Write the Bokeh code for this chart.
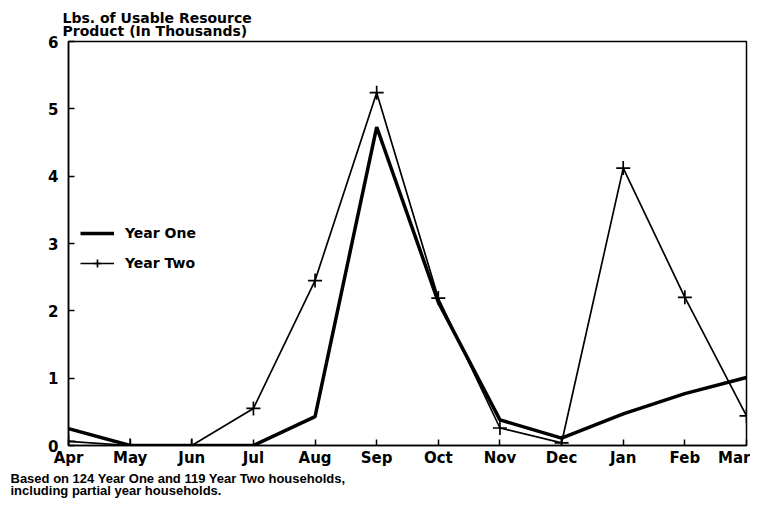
from bokeh.plotting import figure
from bokeh.models import Range1d, FixedTicker, Title, Legend, LegendItem
from bokeh.embed import file_html
from bokeh.resources import INLINE

months = ["Apr", "May", "Jun", "Jul", "Aug", "Sep", "Oct", "Nov", "Dec", "Jan", "Feb", "Mar"]
year_one = [0.25, 0.0, 0.0, 0.0, 0.43, 4.73, 2.13, 0.38, 0.11, 0.47, 0.77, 1.01]
year_two = [0.06, 0.0, 0.0, 0.55, 2.45, 5.24, 2.19, 0.26, 0.04, 4.12, 2.2, 0.44]
y_ticks = [0, 1, 2, 3, 4, 5, 6]
y_label = "Lbs. of Usable Resource\nProduct (In Thousands)"
footnote = "Based on 124 Year One and 119 Year Two households,\nincluding partial year households."

FONT = "DejaVu Sans"
FONT2 = "Liberation Sans"
xs = list(range(len(months)))

p = figure(width=750, height=498, output_backend="svg", toolbar_location=None,
           x_range=Range1d(0, len(months) - 1), y_range=Range1d(0, 6),
           min_border_left=68, min_border_right=4, min_border_top=41, min_border_bottom=53)
p.grid.visible = False
p.background_fill_color = "white"
p.border_fill_color = "white"
p.outline_line_color = "black"
p.outline_line_width = 1.5

# axes
p.xaxis.ticker = FixedTicker(ticks=xs)
p.xaxis.major_label_overrides = {i: m for i, m in enumerate(months)}
p.yaxis.ticker = FixedTicker(ticks=y_ticks)
for ax in (p.xaxis, p.yaxis):
    ax.major_tick_in = 6
    ax.major_tick_out = 0
    ax.minor_tick_line_color = None
    ax.axis_line_width = 1.5
    ax.major_tick_line_width = 1.5
    ax.major_label_text_font = FONT
    ax.major_label_text_font_style = "bold"
    ax.major_label_text_font_size = "15px"
    ax.major_label_text_color = "black"
p.xaxis.major_label_standoff = 3
p.yaxis.major_label_standoff = 10

# y-axis label as a title above the frame
t = Title(text=y_label, align="left", offset=-6, text_font=FONT, text_font_style="bold",
          text_font_size="14px", text_line_height=0.85, standoff=4, text_color="black")
p.add_layout(t, "above")

# footnote below the axis
foot = Title(text=footnote, align="left", offset=-58, text_font=FONT2, text_font_style="bold",
             text_font_size="13px", text_line_height=0.82, standoff=0, text_color="black")
p.add_layout(foot, "below")

r1 = p.line(xs, year_one, line_color="black", line_width=3.5)
r2 = p.line(xs, year_two, line_color="black", line_width=1.7)
m2 = p.scatter(xs, year_two, marker="cross", size=14, line_color="black", line_width=1.7)

legend = Legend(items=[LegendItem(label="Year One", renderers=[r1]),
                       LegendItem(label="Year Two", renderers=[r2, m2])],
                location=(12, 172), border_line_color=None, background_fill_alpha=0,
                padding=0, margin=0, spacing=10, glyph_width=34, glyph_height=20,
                label_height=20, label_standoff=11, label_text_font=FONT,
                label_text_font_style="bold", label_text_font_size="14px",
                label_text_color="black")
p.add_layout(legend, "center")

open("out.html", "w").write(file_html(p, INLINE))
